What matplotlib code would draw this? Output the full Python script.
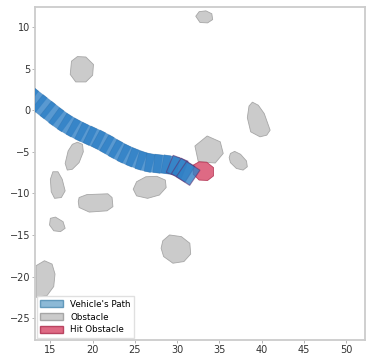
import numpy as np
import matplotlib
matplotlib.use("Agg")
import matplotlib.pyplot as plt
from matplotlib.patches import Polygon, Rectangle, Patch
from matplotlib.transforms import Affine2D
from matplotlib.colors import to_rgba

# Vehicle reference-point positions, one per simulation step
path_x = [12.2, 13.2, 14.2, 15.2, 16.2, 17.2, 18.2, 19.2, 20.2, 21.2, 22.2,
          23.2, 24.2, 25.2, 26.2, 27.2, 28.2, 29.2, 30.0, 30.7, 31.3]
path_y = [2.0, 1.21, 0.42, -0.37, -1.15, -1.80, -2.35, -2.85, -3.30, -3.80,
          -4.38, -4.95, -5.45, -5.85, -6.20, -6.38, -6.48, -6.60, -6.80,
          -7.20, -7.60]
# steps at which the vehicle was in contact with an obstacle
contact_steps = [18, 19, 20]

vehicle_length = 1.9
vehicle_width = 2.2

# Obstacle outlines (x, y vertices)
obstacles = [
    [(32.2, 11.3), (32.6, 11.85), (33.4, 11.95), (34.1, 11.6), (34.2, 10.9),
     (33.6, 10.5), (32.7, 10.55)],
    [(17.5, 5.9), (18.2, 6.45), (19.2, 6.4), (20.1, 5.5), (20.0, 4.2),
     (19.2, 3.4), (18.0, 3.4), (17.35, 4.3)],
    [(38.9, 0.97), (39.6, 0.6), (40.3, -0.4), (41.0, -2.4), (40.6, -3.0),
     (39.8, -3.2), (38.7, -2.6), (38.3, -0.9), (38.5, 0.5)],
    [(33.55, -3.1), (35.1, -3.8), (35.45, -5.2), (34.5, -6.35), (32.5, -6.2),
     (32.1, -4.3)],
    [(36.3, -5.2), (36.8, -4.95), (37.5, -5.3), (38.2, -6.1), (38.3, -6.8),
     (37.8, -7.2), (37.0, -7.0), (36.3, -6.3), (36.15, -5.7)],
    [(18.2, -3.85), (18.8, -4.1), (18.9, -5.0), (18.4, -6.3), (17.6, -7.1),
     (17.0, -7.2), (16.75, -6.4), (17.1, -4.9), (17.6, -4.1)],
    [(15.3, -7.4), (15.9, -7.4), (16.4, -8.3), (16.75, -9.7), (16.3, -10.5),
     (15.5, -10.6), (15.1, -9.8), (15.0, -8.3)],
    [(18.4, -10.5), (19.3, -10.15), (21.8, -10.05), (22.3, -10.5),
     (22.4, -11.6), (21.7, -12.1), (19.6, -12.25), (18.4, -11.7), (18.3, -11.0)],
    [(25.2, -8.6), (26.3, -8.0), (27.6, -7.95), (28.6, -8.4), (28.7, -9.3),
     (27.9, -10.2), (26.5, -10.6), (25.2, -10.3), (24.8, -9.5)],
    [(15.0, -13.0), (15.6, -12.85), (16.5, -13.4), (16.75, -14.2),
     (16.2, -14.6), (15.4, -14.5), (14.9, -13.8)],
    [(28.3, -15.7), (29.1, -15.0), (30.5, -15.2), (31.5, -16.0), (31.6, -17.3),
     (30.8, -18.2), (29.5, -18.4), (28.4, -17.6), (28.1, -16.6)],
    [(13.3, -18.7), (14.3, -18.1), (15.2, -18.5), (15.55, -19.7),
     (15.4, -21.2), (14.6, -22.3), (13.3, -22.5)],
]
hit_obstacle = [(31.9, -6.6), (32.6, -6.2), (33.5, -6.25), (34.3, -6.9),
                (34.3, -7.9), (33.6, -8.45), (32.6, -8.4), (31.9, -7.7)]

x_ticks = [15, 20, 25, 30, 35, 40, 45, 50]
y_ticks = [10, 5, 0, -5, -10, -15, -20, -25]

path_color = "#2f80c6"
obstacle_color = "#c6c6c6"
obstacle_edge = "#a0a0a0"
hit_color = "#d9506e"

fig = plt.figure(figsize=(3.7, 3.55), dpi=100)
ax = fig.add_axes([0.095, 0.043, 0.891, 0.937])

for poly in obstacles:
    ax.add_patch(Polygon(poly, closed=True, facecolor=obstacle_color,
                         edgecolor=obstacle_edge, linewidth=0.6, alpha=0.9,
                         zorder=1))

ax.add_patch(Polygon(hit_obstacle, closed=True, facecolor=hit_color,
                     edgecolor="#b03050", linewidth=0.6, alpha=0.85, zorder=2))

px = np.array(path_x)
py = np.array(path_y)
heading = np.arctan2(np.gradient(py), np.gradient(px))
for i, (x, y, h) in enumerate(zip(px, py, heading)):
    rect = Rectangle((-vehicle_length / 2, -vehicle_width / 2),
                     vehicle_length, vehicle_width)
    rect.set_transform(Affine2D().rotate(h).translate(x, y) + ax.transData)
    rect.set_facecolor(to_rgba(path_color, 0.8))
    if i in contact_steps:
        rect.set_edgecolor(to_rgba("#5e2a6a", 0.55))
        rect.set_linewidth(0.8)
    else:
        rect.set_edgecolor(to_rgba("#1d5a94", 0.25))
        rect.set_linewidth(0.5)
    rect.set_zorder(3)
    ax.add_patch(rect)

ax.set_xlim(13.2, 52.2)
ax.set_ylim(-27.6, 12.4)
ax.set_xticks(x_ticks)
ax.set_yticks(y_ticks)
ax.tick_params(labelsize=7, length=2, width=0.6, color="#aaaaaa",
               labelcolor="#333333", pad=1.5)
for s in ax.spines.values():
    s.set_color("#cccccc")
    s.set_linewidth(1.3)

handles = [
    Patch(facecolor="#6fa8cc", edgecolor="#4a88b0", alpha=0.8,
          label="Vehicle's Path"),
    Patch(facecolor=obstacle_color, edgecolor=obstacle_edge, alpha=0.9,
          label="Obstacle"),
    Patch(facecolor=hit_color, edgecolor="#b03050", alpha=0.85,
          label="Hit Obstacle"),
]
ax.legend(handles=handles, loc="lower left", fontsize=6.3, handlelength=2.6,
          handleheight=0.8, borderaxespad=0.2, labelspacing=0.45,
          framealpha=0.9, edgecolor="#dddddd", fancybox=False)

fig.savefig("out.png", dpi=100)
